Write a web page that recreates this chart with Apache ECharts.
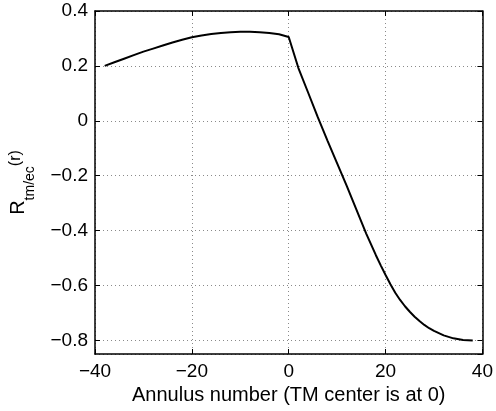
<!DOCTYPE html>
<html>
<head>
<meta charset="utf-8">
<script src="https://cdn.jsdelivr.net/npm/echarts@6/dist/echarts.min.js"></script>
<style>
  html, body { margin: 0; padding: 0; background: #fff; }
  #chart { width: 496px; height: 411px; }
</style>
</head>
<body>
<div id="chart"></div>
<script>
// annulus number (x) and R_tm/ec(r) (y)
const annulus = [-38, -36, -34, -32, -30, -28, -26, -24, -22, -20, -18, -16, -14, -12, -10, -8, -6, -4, -2, 0,
  2, 4, 6, 8, 10, 12, 14, 16, 18, 19, 20, 21, 22, 23, 24, 25, 26, 27, 28, 29, 30, 32, 34, 36, 38];
const ratio = [0.200, 0.213, 0.226, 0.239, 0.252, 0.263, 0.274, 0.285, 0.295, 0.304, 0.311, 0.316, 0.320, 0.323, 0.324, 0.324, 0.323, 0.320, 0.315, 0.305,
  0.192, 0.103, 0.013, -0.072, -0.155, -0.238, -0.325, -0.411, -0.490, -0.527, -0.562, -0.596, -0.627, -0.653, -0.676, -0.696, -0.714, -0.730, -0.744, -0.756, -0.766, -0.782, -0.793, -0.799, -0.801];

const xTicks = [-40, -20, 0, 20, 40];
const yTicks = [-0.8, -0.6, -0.4, -0.2, 0, 0.2, 0.4];

const fontFamily = "Liberation Sans, Arial, sans-serif";
const minus = s => String(s).replace("-", "\u2212");

const chart = echarts.init(document.getElementById("chart"));

const gridLine = {
  show: true,
  lineStyle: { color: "#8a8a8a", type: [1, 3], width: 1 }
};
const axisLine = { show: true, onZero: false, lineStyle: { color: "#000", width: 1.5 } };
const tick = { show: true, inside: true, length: 5, lineStyle: { color: "#000", width: 1 } };

// y range goes a bit below -0.8, so let the nice ticks land on multiples of 0.2
const yScale = { type: "value", min: -0.85, max: 0.4, splitNumber: 6, minInterval: 0.2, maxInterval: 0.2 };

const option = {
  animation: false,
  backgroundColor: "#fff",
  grid: { left: 92, right: 13, top: 11, bottom: 57, containLabel: false },
  xAxis: [
    {
      type: "value",
      min: -40,
      max: 40,
      interval: 20,
      position: "bottom",
      axisLine,
      axisTick: tick,
      splitLine: gridLine,
      axisLabel: {
        color: "#000",
        fontSize: 19,
        fontFamily,
        margin: 8,
        formatter: v => (xTicks.includes(v) ? minus(v) : "")
      },
      name: "Annulus number (TM center is at 0)",
      nameLocation: "middle",
      nameGap: 30,
      nameTextStyle: { color: "#000", fontSize: 20, fontFamily }
    },
    {
      type: "value",
      min: -40,
      max: 40,
      interval: 20,
      position: "top",
      axisLine,
      axisTick: tick,
      splitLine: { show: false },
      axisLabel: { show: false }
    }
  ],
  yAxis: [
    Object.assign({}, yScale, {
      position: "left",
      axisLine,
      axisTick: tick,
      splitLine: gridLine,
      axisLabel: {
        color: "#000",
        fontSize: 19,
        fontFamily,
        margin: 7,
        showMinLabel: false,
        formatter: v => {
          const hit = yTicks.find(t => Math.abs(t - v) < 1e-6);
          if (hit === undefined) return "";
          return hit === 0 ? "0" : minus(hit.toFixed(1));
        }
      },
      name: "{a|R}{b|tm/ec}{c|(r)}",
      nameLocation: "middle",
      nameGap: 58,
      nameTextStyle: {
        color: "#000",
        fontFamily,
        rich: {
          a: { fontSize: 20, fontFamily, color: "#000", verticalAlign: "top", lineHeight: 29 },
          b: { fontSize: 14, fontFamily, color: "#000", verticalAlign: "bottom", lineHeight: 29 },
          c: { fontSize: 16, fontFamily, color: "#000", verticalAlign: "top", lineHeight: 29 }
        }
      }
    }),
    Object.assign({}, yScale, {
      position: "right",
      axisLine,
      axisTick: tick,
      splitLine: { show: false },
      axisLabel: { show: false }
    })
  ],
  series: [
    {
      type: "line",
      data: annulus.map((a, i) => [a, ratio[i]]),
      smooth: false,
      showSymbol: false,
      lineStyle: { color: "#000", width: 2 },
      itemStyle: { color: "#000" }
    }
  ]
};

chart.setOption(option);
</script>
</body>
</html>
